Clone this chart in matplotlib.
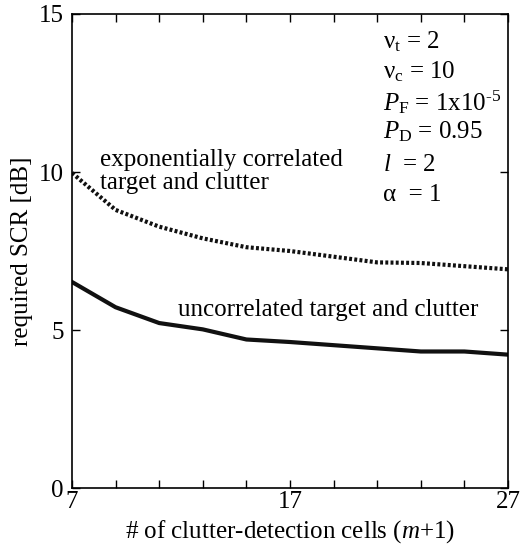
import matplotlib
matplotlib.use("Agg")
import matplotlib.pyplot as plt

plt.rcParams['font.family'] = ['Liberation Serif', 'DejaVu Serif']
plt.rcParams['mathtext.fontset'] = 'custom'
plt.rcParams['mathtext.rm'] = 'Liberation Serif'
plt.rcParams['mathtext.it'] = 'Liberation Serif:italic'

cells = [7, 9, 11, 13, 15, 17, 19, 21, 23, 25, 27]
scr_uncorrelated = [6.52, 5.72, 5.22, 5.02, 4.7, 4.62, 4.52, 4.42, 4.32, 4.32, 4.22]
scr_exp_correlated = [9.97, 8.8, 8.27, 7.9, 7.62, 7.5, 7.32, 7.14, 7.12, 7.02, 6.92]

xticks_major = [7, 17, 27]
xticks_minor = [9, 11, 13, 15, 19, 21, 23, 25]
yticks = [0, 5, 10, 15]

fig = plt.figure(figsize=(5.31, 5.49), dpi=100)
ax = fig.add_axes([0.1356, 0.1111, 0.8211, 0.8634])

ax.plot(cells, scr_uncorrelated, color='#111111', lw=3.0, solid_joinstyle='miter')
ax.plot(cells, scr_exp_correlated, color='#111111', lw=3.0,
        linestyle=(0, (0.7, 0.55)), dash_capstyle='butt')

ax.set_xlim(7, 27)
ax.set_ylim(0, 15)
ax.set_xticks(xticks_major)
ax.set_xticks(xticks_minor, minor=True)
ax.set_yticks(yticks)
ax.tick_params(which='both', direction='in', top=True, right=True, labelsize=18)
ax.tick_params(axis='x', pad=2)
ax.tick_params(axis='y', pad=6)
ax.tick_params(which='major', length=6, width=1)
ax.tick_params(which='minor', length=6, width=1)
for s in ax.spines.values():
    s.set_linewidth(1.2)

ax.set_xlabel(r'# of clutter-detection cells ($m$+1)', fontsize=18, labelpad=4)
ax.set_ylabel('required SCR [dB]', fontsize=18, labelpad=4)

fs = 18
tx = 383
def px(x, y):
    return fig.transFigure.inverted().transform((x, 549 - y))

params = ['ν$_{\\rm t}$ = 2', 'ν$_{\\rm c}$ = 10', '$P_{\\rm F}$ = 1x10$^{\\text{-5}}$',
          '$P_{\\rm D}$ = 0.95', '$l$  = 2', 'α  = 1']
ys = [42, 72, 102, 132, 165, 195]
for t, y in zip(params, ys):
    fig.text(*px(tx, y), t, fontsize=fs, va='center', ha='left')

fig.text(*px(100, 160), 'exponentially correlated', fontsize=fs, va='center')
fig.text(*px(100, 183), 'target and clutter', fontsize=fs, va='center')
fig.text(*px(178, 310), 'uncorrelated target and clutter', fontsize=fs, va='center')

fig.savefig('out.png', dpi=100)
